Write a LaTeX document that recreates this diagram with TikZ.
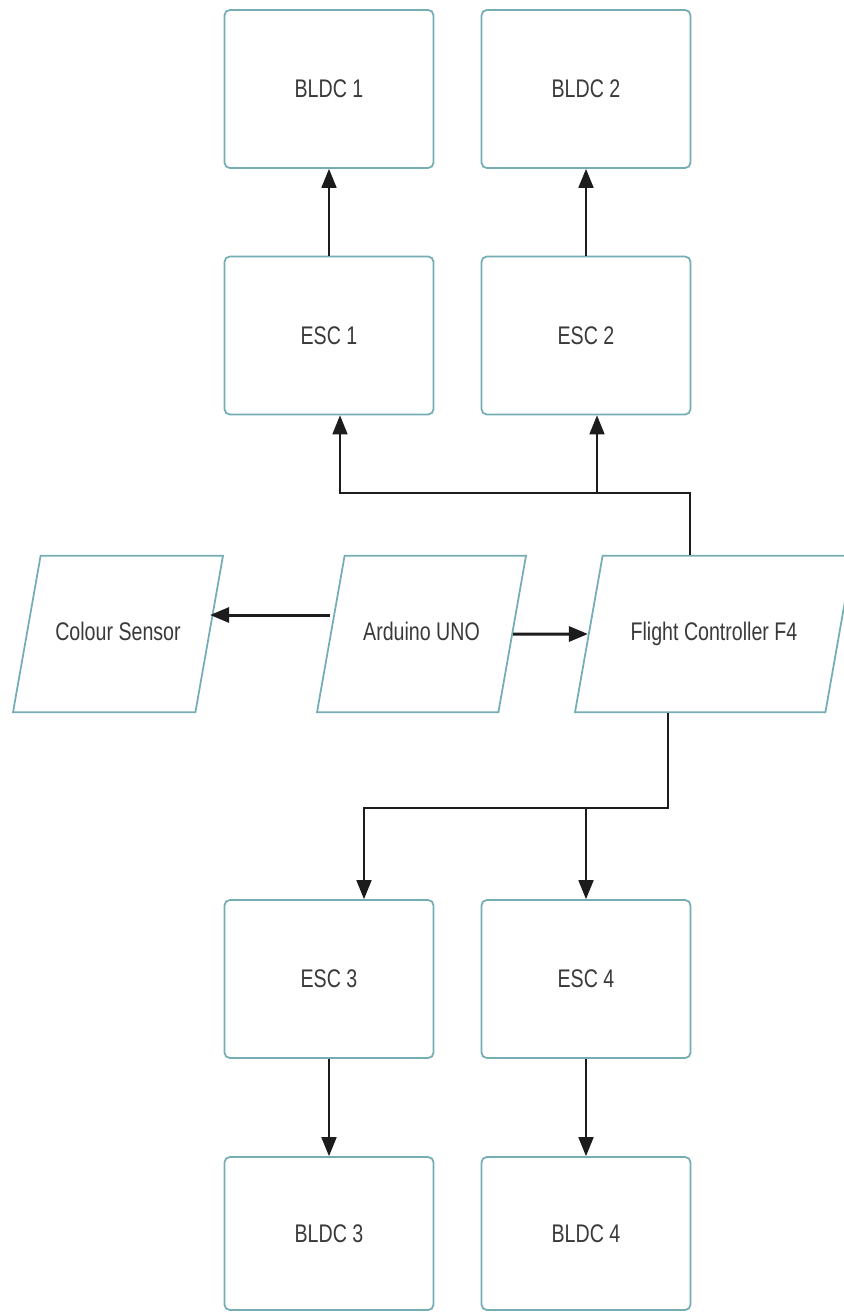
\documentclass[tikz,border=0pt]{standalone}
\usepackage{fontspec}
\setmainfont{Liberation Sans}[FakeStretch=0.77]
\usepackage{tikz}
\usepackage{xcolor}
\usetikzlibrary{
    calc,
    shapes.geometric,
    arrows.meta
}
\definecolor{AzulBorda}{HTML}{74ADB4}
\definecolor{CinzaTexto}{HTML}{3A3A3A}
\definecolor{PretoSeta}{HTML}{1C1C1C}

\begin{document}
\begin{tikzpicture}[
        x=0.02cm, y=-0.02cm,
        caixa/.style={
            draw=AzulBorda,
            line width=1pt,
            rounded corners=3pt,
            minimum width=4.18cm,
            minimum height=3.16cm,
            text=CinzaTexto,
            font=\fontsize{14.5}{16}\selectfont
        },
        paralelo/.style={
            trapezium,
            trapezium left angle=80,
            trapezium right angle=100,
            trapezium stretches body,
            draw=AzulBorda,
            line width=1pt,
            inner ysep=38pt,
            text height=10pt,
            text depth=3pt,
            text=CinzaTexto,
            font=\fontsize{14.5}{16}\selectfont
        },
        seta/.style={
            draw=PretoSeta,
            line width=1pt,
            -{Triangle[length=0.38cm,width=0.3cm]}
        },
        setagrossa/.style={
            seta,
            line width=1.7pt
        }
    ]
    \useasboundingbox[fill=white] (0,0) rectangle (844,1313);

    % motores e ESCs de cima
    \node[caixa] (bldc1) at (329,89) {BLDC 1};
    \node[caixa] (bldc2) at (586,89) {BLDC 2};
    \node[caixa] (esc1) at (329,335.5) {ESC 1};
    \node[caixa] (esc2) at (586,335.5) {ESC 2};

    % linha do meio
    \node[paralelo, minimum width=4.2cm] (colour) at (118,634) {Colour Sensor};
    \node[paralelo, minimum width=4.18cm] (arduino) at (421.5,634) {Arduino UNO};
    \node[paralelo, minimum width=5.56cm] (flight) at (714,634) {Flight Controller F4};

    % motores e ESCs de baixo
    \node[caixa] (esc3) at (329,979) {ESC 3};
    \node[caixa] (esc4) at (586,979) {ESC 4};
    \node[caixa, minimum height=3.06cm] (bldc3) at (329,1233.5) {BLDC 3};
    \node[caixa, minimum height=3.06cm] (bldc4) at (586,1233.5) {BLDC 4};

    % pontos de dobra
    \coordinate (busA) at (340,493);
    \coordinate (busB) at (597,493);
    \coordinate (busC) at (690,493);
    \coordinate (busD) at (668,808);
    \coordinate (busE) at (364,808);
    \coordinate (busF) at (586,808);

    \draw[seta] (esc1) -- (bldc1);
    \draw[seta] (esc2) -- (bldc2);
    \draw[seta] (busC |- flight.north) -- (busC) -- (busA) -- (busA |- esc1.south);
    \draw[seta] (busB) -- (busB |- esc2.south);

    \draw[setagrossa] ([yshift=0.38cm]arduino.west) -- ([yshift=0.38cm]colour.east);
    \draw[setagrossa] (arduino.east) -- (flight.west);

    \draw[seta] (busD |- flight.south) -- (busD) -- (busE) -- (busE |- esc3.north);
    \draw[seta] (busF) -- (busF |- esc4.north);
    \draw[seta] (esc3) -- (bldc3);
    \draw[seta] (esc4) -- (bldc4);
\end{tikzpicture}
\end{document}
